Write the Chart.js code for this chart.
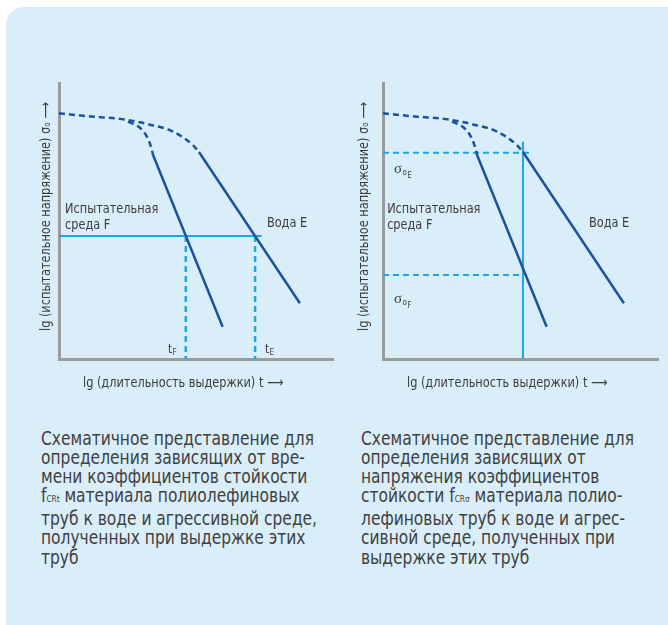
<!DOCTYPE html>
<html>
<head>
<meta charset="utf-8">
<script src="https://cdn.jsdelivr.net/npm/chart.js@4"></script>
<style>
  body { margin: 0; background: #fff; width: 668px; height: 625px; overflow: hidden; position: relative; }
  .panel { position: absolute; left: 6px; top: 7px; width: 700px; height: 660px; background: #daeef9; border-radius: 18px; }
  canvas { position: absolute; top: 0; }
  #left { left: 0; }
  #right { left: 334px; }
  .caption {
    position: absolute; top: 429px; color: #404040;
    font-family: 'DejaVu Sans Condensed', Roboto, sans-serif;
    font-size: 19px; line-height: 19.1px; white-space: nowrap;
    transform: scaleX(0.905); transform-origin: 0 0;
  }
  .caption small { font-size: 9px; }
</style>
</head>
<body>
<div class="panel"></div>
<canvas id="left" width="334" height="400"></canvas>
<canvas id="right" width="334" height="400"></canvas>
<div class="caption" style="left:41px">Схематичное представление для<br>определения зависящих от вре-<br>мени коэффициентов стойкости<br>f<small>CRt</small> материала полиолефиновых<br>труб к воде и агрессивной среде,<br>полученных при выдержке этих<br>труб</div>
<div class="caption" style="left:361px">Схематичное представление для<br>определения зависящих от<br>напряжения коэффициентов<br>стойкости f<small>CRσ</small> материала полио-<br>лефиновых труб к воде и агрес-<br>сивной среде, полученных при<br>выдержке этих труб</div>
<script>
// curve of water (E): dashed knee, then straight falling part
const waterDashX = [0, 12.4, 22.2, 33.1, 41.5, 48.7, 50.9];
const waterDashY = [89, 87.8, 87, 84.9, 82.4, 77.5, 75];
const waterLineX = [50.9, 87.6];
const waterLineY = [75, 20.2];
// curve of test medium (F)
const mediumDashX = [25.1, 29.5, 32, 33.8, 34.2];
const mediumDashY = [86, 83.7, 80.5, 75.7, 73.9];
const mediumLineX = [34.2, 59.5];
const mediumLineY = [73.9, 11.7];

// left chart: constant stress, times tF and tE
const stressLevel = 44.6;
const stressLineEnd = 73.7;
const timeF = 46.1;
const timeE = 71.3;

// right chart: constant time, stresses sigmaE and sigmaF
const timeLevel = 50.9;
const timeLineTop = 78.7;
const sigmaE = 74.7;
const sigmaEEnd = 54.5;
const sigmaF = 30.4;
const sigmaFEnd = 50.5;

const DARK = '#1b52a0';
const CYAN = '#1ea7e4';
const TEXT = '#3c3c3c';
const SANS = "'DejaVu Sans Condensed', Roboto, sans-serif";
const SERIF = "'Liberation Serif', 'DejaVu Serif', serif";
const SQUEEZE = 0.9;

const pts = (xs, ys) => xs.map((x, i) => ({ x, y: ys[i] }));

// draws text squeezed horizontally, returns drawn width
function squeezed(ctx, text, x, y, font, align, k = SQUEEZE) {
  ctx.save();
  ctx.font = font;
  ctx.textAlign = align || 'left';
  ctx.translate(x, y);
  ctx.scale(k, 1);
  ctx.fillText(text, 0, 0);
  const w = ctx.measureText(text).width * k;
  ctx.restore();
  return w;
}

function curveSets() {
  return [
    { data: pts(waterDashX, waterDashY), borderColor: DARK, borderWidth: 2.5, borderDash: [6, 4], cubicInterpolationMode: 'monotone' },
    { data: pts(waterLineX, waterLineY), borderColor: DARK, borderWidth: 2.5 },
    { data: pts(mediumDashX, mediumDashY), borderColor: DARK, borderWidth: 2.5, borderDash: [6, 4], cubicInterpolationMode: 'monotone' },
    { data: pts(mediumLineX, mediumLineY), borderColor: DARK, borderWidth: 2.5 }
  ];
}

const labelsPlugin = {
  id: 'labels',
  afterDraw(chart, args, opts) {
    const ctx = chart.ctx;
    const sx = chart.scales.x, sy = chart.scales.y;
    const area = chart.chartArea;
    ctx.save();
    ctx.fillStyle = TEXT;
    ctx.textBaseline = 'alphabetic';
    (opts.items || []).forEach(it => {
      const px = sx.getPixelForValue(it.x);
      const py = sy.getPixelForValue(it.y);
      const font = (it.size || 14) + 'px ' + (it.serif ? SERIF : SANS);
      const w = squeezed(ctx, it.text, px, py, font, 'left', it.serif ? 1 : SQUEEZE);
      if (it.sub) {
        const w2 = squeezed(ctx, it.sub, px + w + 0.5, py + 2, '9px ' + SANS, 'left');
        if (it.sub2) squeezed(ctx, it.sub2, px + w + w2 + 1, py + 5, '8.5px ' + SANS, 'left');
      }
    });
    // axis titles
    squeezed(ctx, 'lg (длительность выдержки) t ⟶', area.left + 24, area.bottom + 28, '14px ' + SANS, 'left');
    ctx.translate(area.left - opts.yTitleGap, area.bottom - 28);
    ctx.rotate(-Math.PI / 2);
    squeezed(ctx, 'lg (испытательное напряжение) σ\u2092 ⟶', 0, 0, '14px ' + SANS, 'left');
    ctx.restore();
  }
};

function axes() {
  const ax = {
    type: 'linear', min: 0, max: 100,
    grid: { display: false, drawTicks: false },
    ticks: { display: false },
    border: { display: true, color: '#9b9b9b', width: 3 }
  };
  return { x: { ...ax }, y: { ...ax } };
}

function makeChart(id, datasets, padding, items, yTitleGap) {
  return new Chart(document.getElementById(id), {
    type: 'scatter',
    data: { datasets: datasets.map(d => ({ showLine: true, pointRadius: 0, fill: false, ...d })) },
    options: {
      responsive: false,
      animation: false,
      layout: { padding },
      scales: axes(),
      plugins: {
        legend: { display: false },
        tooltip: { enabled: false },
        labels: { items, yTitleGap }
      }
    },
    plugins: [labelsPlugin]
  });
}

makeChart('left', [
  ...curveSets(),
  { data: [{ x: 0, y: stressLevel }, { x: stressLineEnd, y: stressLevel }], borderColor: CYAN, borderWidth: 2 },
  { data: [{ x: timeF, y: stressLevel }, { x: timeF, y: 0 }], borderColor: CYAN, borderWidth: 2.5, borderDash: [6, 4] },
  { data: [{ x: timeE, y: stressLevel }, { x: timeE, y: 0 }], borderColor: CYAN, borderWidth: 2.5, borderDash: [6, 4] }
], { left: 59, top: 83, right: 0, bottom: 41 }, [
  { x: 2.2, y: 53, text: 'Испытательная' },
  { x: 2.2, y: 47, text: 'среда F' },
  { x: 75.6, y: 47.9, text: 'Вода E' },
  { x: 39.6, y: 2.2, text: 't', size: 13, sub: 'F' },
  { x: 74.9, y: 2.2, text: 't', size: 13, sub: 'E' }
], 9);

makeChart('right', [
  ...curveSets(),
  { data: [{ x: 0, y: sigmaE }, { x: sigmaEEnd, y: sigmaE }], borderColor: CYAN, borderWidth: 2, borderDash: [6, 4] },
  { data: [{ x: 0, y: sigmaF }, { x: sigmaFEnd, y: sigmaF }], borderColor: CYAN, borderWidth: 2, borderDash: [6, 4] },
  { data: [{ x: timeLevel, y: timeLineTop }, { x: timeLevel, y: 0 }], borderColor: CYAN, borderWidth: 2 }
], { left: 49, top: 83, right: 10, bottom: 41 }, [
  { x: 4, y: 67.3, text: 'σ', size: 15, serif: true, sub: 'o', sub2: 'E' },
  { x: 4, y: 20.2, text: 'σ', size: 15, serif: true, sub: 'o', sub2: 'F' },
  { x: 1.5, y: 53, text: 'Испытательная' },
  { x: 1.5, y: 47, text: 'среда F' },
  { x: 74.9, y: 47.9, text: 'Вода E' }
], 15);
</script>
</body>
</html>
